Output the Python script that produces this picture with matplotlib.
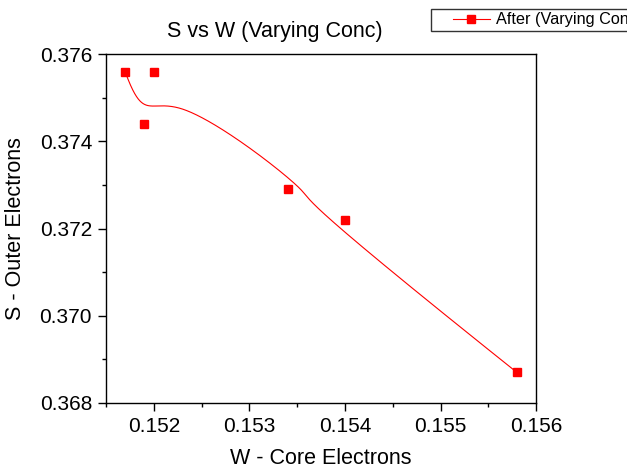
#!/usr/bin/env python3
import numpy as np
import matplotlib
matplotlib.use('Agg')
import matplotlib.pyplot as plt
from matplotlib.legend_handler import HandlerLine2D
from matplotlib.ticker import MultipleLocator, FormatStrFormatter

plt.rcParams['font.family'] = ['Liberation Sans', 'DejaVu Sans']

# data, kept in worksheet order (the B-spline follows it)
w_core = [0.1517, 0.1519, 0.1520, 0.1540, 0.1534, 0.1558]
s_outer = [0.3756, 0.3744, 0.3756, 0.3722, 0.3729, 0.3687]
series_name = 'After (Varying Conc)'


def basis(i, p, t, knots):
    # Cox-de Boor recursion
    if p == 0:
        b = ((knots[i] <= t) & (t < knots[i + 1])).astype(float)
        if knots[i] < knots[i + 1] and knots[i + 1] == knots[-1]:
            b[t == knots[-1]] = 1.0
        return b
    out = np.zeros_like(t)
    d1 = knots[i + p] - knots[i]
    if d1 > 0:
        out += (t - knots[i]) / d1 * basis(i, p - 1, t, knots)
    d2 = knots[i + p + 1] - knots[i + 1]
    if d2 > 0:
        out += (knots[i + p + 1] - t) / d2 * basis(i + 1, p - 1, t, knots)
    return out


def bspline(cx, cy, k=3, n=800):
    # clamped uniform B-spline with the data points as control points
    cx = np.asarray(cx)
    cy = np.asarray(cy)
    m = len(cx)
    knots = np.concatenate([np.zeros(k), np.linspace(0, 1, m - k + 1), np.ones(k)])
    t = np.linspace(0, 1, n)
    bx = np.zeros(n)
    by = np.zeros(n)
    for i in range(m):
        b = basis(i, k, t, knots)
        bx += b * cx[i]
        by += b * cy[i]
    return bx, by


class PaddedLineHandler(HandlerLine2D):
    # draw the legend line only on the right part of the handle box
    frac = 0.66

    def get_xdata(self, legend, xdescent, ydescent, width, height, fontsize):
        x0 = -xdescent + width * (1 - self.frac)
        x1 = -xdescent + width
        return [x0, x1], [0.5 * (x0 + x1)]


def main():
    fig = plt.figure(figsize=(6.27, 4.76), dpi=100)
    ax = fig.add_axes([0.169, 0.1534, 0.686, 0.733])

    sx, sy = bspline(w_core, s_outer)
    ax.plot(sx, sy, color='red', lw=0.8)
    ax.plot(w_core, s_outer, ls='none', marker='s', ms=6, color='red')

    ax.set_xlim(0.1515, 0.156)
    ax.set_ylim(0.368, 0.376)
    ax.xaxis.set_major_locator(MultipleLocator(0.001))
    ax.xaxis.set_minor_locator(MultipleLocator(0.0005))
    ax.yaxis.set_major_locator(MultipleLocator(0.002))
    ax.yaxis.set_minor_locator(MultipleLocator(0.001))
    ax.xaxis.set_major_formatter(FormatStrFormatter('%.3f'))
    ax.yaxis.set_major_formatter(FormatStrFormatter('%.3f'))
    ax.tick_params(which='both', direction='out', top=False, right=False, labelsize=15, width=1)
    ax.tick_params(which='major', length=6, pad=4)
    ax.tick_params(which='minor', length=3)
    for sp in ax.spines.values():
        sp.set_linewidth(1)

    ax.set_xlabel('W - Core Electrons', fontsize=15.5, labelpad=9)
    ax.set_ylabel('S - Outer Electrons', fontsize=15.5, labelpad=10)
    fig.text(275 / 627, 1 - 31 / 476, 'S vs W (Varying Conc)', fontsize=15.5,
             ha='center', va='center')

    # legend box runs past the right edge, as in the reference
    handle = plt.Line2D([], [], color='red', lw=0.8, marker='s', ms=6)
    leg = fig.legend([handle], [series_name], loc='upper left',
                     bbox_to_anchor=(431 / 627, 1 - 9 / 476), fontsize=11.7,
                     frameon=True, fancybox=False, borderaxespad=0,
                     handlelength=3.42, handletextpad=0.37, borderpad=0.2,
                     handler_map={plt.Line2D: PaddedLineHandler()})
    leg.get_frame().set_edgecolor('black')
    leg.get_frame().set_linewidth(1)

    fig.savefig('out.png', dpi=100)


if __name__ == '__main__':
    main()
